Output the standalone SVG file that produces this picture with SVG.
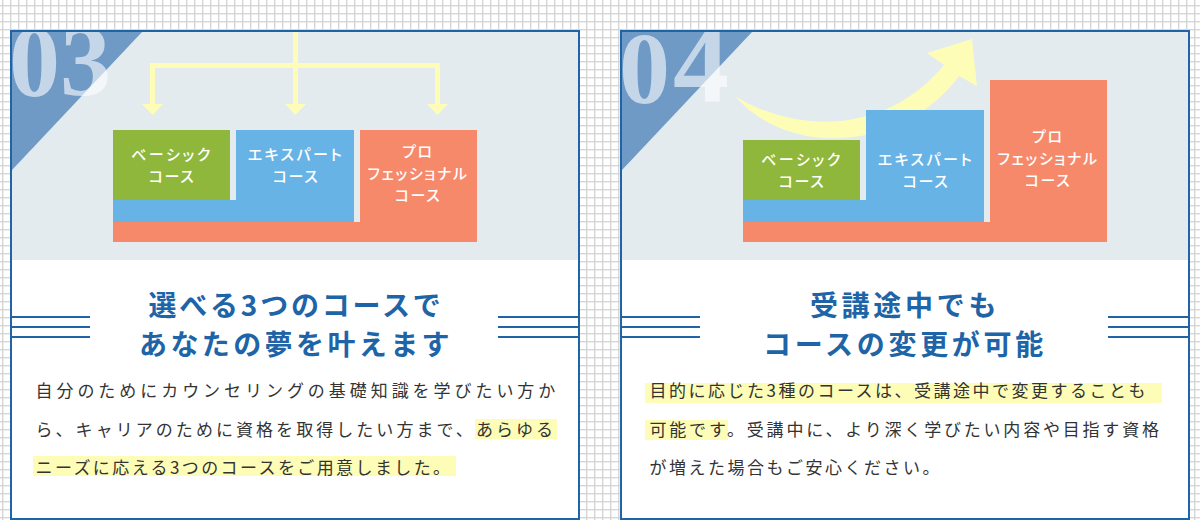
<svg xmlns="http://www.w3.org/2000/svg" width="1200" height="520" viewBox="0 0 1200 520">
<style>
text{font-family:"Noto Sans CJK JP","Noto Sans",sans-serif}
.box{fill:#fff;stroke:#2064a8;stroke-width:2}
.bg{fill:#e3ebef}
.tri{fill:#2064a8;fill-opacity:.6}
.num{font-family:"Liberation Serif",serif;font-weight:700;font-size:102px;fill:#fff;fill-opacity:.6}
.lab{font-size:15px;font-weight:500;fill:#fff;text-anchor:middle;letter-spacing:1.6px;font-feature-settings:"palt"}
.w1{letter-spacing:2.400px}
.w2{letter-spacing:2.600px}
.ttl{font-size:28px;font-weight:700;fill:#2064a8;text-anchor:middle}
.txt{font-size:17px;fill:#333}
.hl{fill:#fdfdb8}
.g{fill:#8fb73c}.b{fill:#68b3e6}.o{fill:#f7896b}
.rule{stroke:#2064a8;stroke-width:2;fill:none}
.ar{fill:#fdfdb8}
.st{stroke:#fdfdb8;stroke-width:5;fill:none}
.hd{marker-end:url(#head)}
</style>
<defs>
<pattern id="grid" width="8" height="8" patternUnits="userSpaceOnUse" x="2" y="5"><rect width="8" height="1.400" fill="#d6d6d6"/><rect width="1.400" height="8" fill="#d6d6d6"/></pattern>
<clipPath id="c1"><rect x="12" y="32" width="566" height="228"/></clipPath>
<clipPath id="c2"><rect x="622" y="32" width="566" height="228"/></clipPath>
<marker id="head" markerUnits="userSpaceOnUse" markerWidth="11" markerHeight="21" refX="0" refY="10.500" orient="auto"><path d="M0 0L11 10.500L0 21Z" fill="#fdfdb8"/></marker>
</defs>
<rect width="1200" height="520" fill="#fff"/>
<rect width="1200" height="520" fill="url(#grid)"/>
<g id="card-03">
<rect class="box" x="11" y="31" width="568" height="488"/>
<rect class="bg" x="12" y="32" width="566" height="228"/>
<path class="tri" d="M12 32H142L12 170Z"/>
<text class="num" x="9" y="96" clip-path="url(#c1)">03</text>
</g>
<g id="connectors-03">
<path class="st hd" d="M295.500 32V104"/>
<path class="st hd" d="M152.500 65.500V104"/>
<path class="st hd" d="M150 65.500H437.500V104"/>
</g>
<g id="node-03-pro"><path class="o" d="M360 130h117v112H113v-20h247z"/><text class="lab" x="418" y="157">プロ</text><text class="lab" x="418" y="179">フェッショナル</text><text class="lab" x="418" y="201">コース</text></g>
<g id="node-03-expert"><path class="b" d="M236 130h118v92H113v-22h123z"/><text class="lab w1" x="296" y="160">エキスパート</text><text class="lab" x="296" y="182">コース</text></g>
<g id="node-03-basic"><rect class="g" x="113" y="130" width="117" height="70"/><text class="lab w2" x="172" y="160">ベーシック</text><text class="lab" x="172" y="182">コース</text></g>
<g id="title-03">
<path class="rule" d="M12 317H90M12 327H90M12 337H90M498 317H578M498 327H578M498 337H578"/>
<text class="ttl" x="296" y="315.500" letter-spacing="2.800">選べる3つのコースで</text>
<text class="ttl" x="296" y="354.500" letter-spacing="3.400">あなたの夢を叶えます</text>
</g>
<g id="body-03">
<rect class="hl" x="475" y="419" width="82" height="20"/>
<rect class="hl" x="33" y="456" width="423" height="20"/>
<text class="txt" x="35.500" y="396.500" letter-spacing="3.950">自分のためにカウンセリングの基礎知識を学びたい方か</text>
<text class="txt" x="35.500" y="435.500" letter-spacing="3.050">ら、キャリアのために資格を取得したい方まで、あらゆる</text>
<text class="txt" x="35.500" y="473.500" letter-spacing="2.400">ニーズに応える3つのコースをご用意しました。</text>
</g>
<g id="card-04">
<rect class="box" x="621" y="31" width="568" height="488"/>
<rect class="bg" x="622" y="32" width="566" height="228"/>
<path class="tri" d="M622 32H752L622 170Z"/>
<text class="num" x="619" y="103" clip-path="url(#c2)">0<tspan dx="3" y="102" style="font-size:112px">4</tspan></text>
</g>
<g id="connectors-04" class="ar">
<path d="M735 96C785 128 880 142 944 65L927 53L972 39L977 86L959 76C905 150 790 160 735 96Z"/>
</g>
<g id="node-04-pro"><path class="o" d="M990 80h117v162H743v-20h247z"/><text class="lab" x="1048" y="142">プロ</text><text class="lab" x="1048" y="164">フェッショナル</text><text class="lab" x="1048" y="186">コース</text></g>
<g id="node-04-expert"><path class="b" d="M866 110h118v112H743v-22h123z"/><text class="lab w1" x="926" y="165">エキスパート</text><text class="lab" x="926" y="187">コース</text></g>
<g id="node-04-basic"><rect class="g" x="743" y="140" width="117" height="60"/><text class="lab w2" x="802" y="165">ベーシック</text><text class="lab" x="802" y="187">コース</text></g>
<g id="title-04">
<path class="rule" d="M622 317H700M622 327H700M622 337H700M1108 317H1188M1108 327H1188M1108 337H1188"/>
<text class="ttl" x="905" y="315.500" letter-spacing="3.700">受講途中でも</text>
<text class="ttl" x="905" y="354.500" letter-spacing="3.700">コースの変更が可能</text>
</g>
<g id="body-04">
<rect class="hl" x="645" y="383" width="517" height="20"/>
<rect class="hl" x="645" y="420" width="83" height="20"/>
<text class="txt" x="649.500" y="396.500" letter-spacing="2.500">目的に応じた3種のコースは、受講途中で変更することも</text>
<text class="txt" x="649.500" y="435.500" letter-spacing="2.800">可能です。受講中に、より深く学びたい内容や目指す資格</text>
<text class="txt" x="649.500" y="473.500" letter-spacing="2.500">が増えた場合もご安心ください。</text>
</g>
</svg>
